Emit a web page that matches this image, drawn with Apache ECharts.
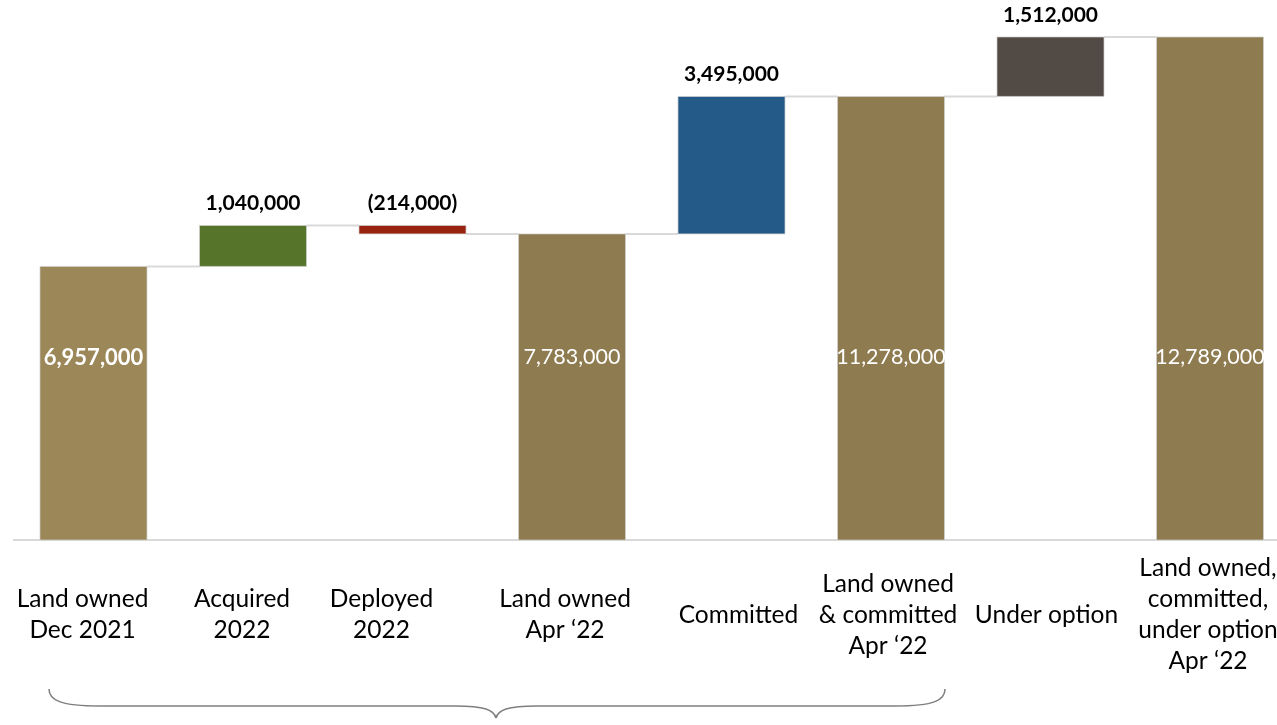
<!DOCTYPE html>
<html>
<head>
<meta charset="utf-8">
<script src="https://cdn.jsdelivr.net/npm/echarts@6/dist/echarts.min.js"></script>
<style>
  html, body { margin: 0; padding: 0; background: #fff; }
  #chart { width: 1277px; height: 725px; }
</style>
</head>
<body>
<div id="chart"></div>
<script>
// Land bank bridge: opening position, movements and closing positions
const categories = [
  'Land owned\nDec 2021',
  'Acquired\n2022',
  'Deployed\n2022',
  'Land owned\nApr \u201822',
  'Committed',
  'Land owned\n& committed\nApr \u201822',
  'Under option',
  'Land owned,\ncommitted,\nunder option\nApr \u201822'
];
// Full-height bars (running totals)
const totals = [6957000, null, null, 7783000, null, 11278000, null, 12789000];
// Floating bars (movements)
const changes = [null, 1040000, -214000, null, 3495000, null, 1512000, null];

// Bar fills per category
const barColors = ['#9c8758', '#57752a', '#98230e', '#8e7b50', '#245a87', '#8e7b50', '#524b45', '#8e7b50'];
// Horizontal nudge (px) of each category caption relative to its column centre
const captionShift = [-11, -11, -31, -7, 7, -3, -4, -2];
// Height (in axis units) at which the totals are labelled inside their bars
const insideLabelLevel = 4640000;

// Build [index, low, high] segments and connector levels
const segments = [];
const connectors = [];
let running = 0;
categories.forEach((c, i) => {
  let lo, hi;
  if (totals[i] != null) {
    lo = 0; hi = totals[i]; running = totals[i];
  } else {
    const next = running + changes[i];
    lo = Math.min(running, next); hi = Math.max(running, next);
    running = next;
  }
  segments.push([i, lo, hi]);
  if (i < categories.length - 1) connectors.push([i, running]);
});

const fmt = v => Math.abs(v).toLocaleString('en-US');
const FONT = 'Lato, "Open Sans", sans-serif';

const captionStyle = {
  color: '#000',
  fontFamily: FONT,
  fontSize: 24.5,
  lineHeight: 31,
  verticalAlign: 'middle',
  align: 'center'
};

const axisData = categories.map((c, i) => {
  const s = captionShift[i];
  return {
    value: c,
    textStyle: Object.assign({}, captionStyle, {
      padding: s < 0 ? [0, -2 * s, 0, 0] : [0, 0, 0, 2 * s]
    })
  };
});

// Curly brace grouping the first six columns
const braceStyle = { fill: 'none', stroke: '#7f7f7f', lineWidth: 1.5 };
const brace = [
  { type: 'bezierCurve', shape: { x1: 49, y1: 689, cpx1: 49, cpy1: 700, cpx2: 60, cpy2: 706, x2: 100, y2: 706 }, style: braceStyle },
  { type: 'line', shape: { x1: 100, y1: 706, x2: 455, y2: 706 }, style: braceStyle },
  { type: 'bezierCurve', shape: { x1: 455, y1: 706, cpx1: 485, cpy1: 706, cpx2: 494, cpy2: 710, x2: 496, y2: 718 }, style: braceStyle },
  { type: 'bezierCurve', shape: { x1: 496, y1: 718, cpx1: 498, cpy1: 710, cpx2: 507, cpy2: 706, x2: 537, y2: 706 }, style: braceStyle },
  { type: 'line', shape: { x1: 537, y1: 706, x2: 895, y2: 706 }, style: braceStyle },
  { type: 'bezierCurve', shape: { x1: 895, y1: 706, cpx1: 935, cpy1: 706, cpx2: 945, cpy2: 700, x2: 945, y2: 689 }, style: braceStyle }
];

const chart = echarts.init(document.getElementById('chart'), null, { renderer: 'canvas' });

chart.setOption({
  animation: false,
  backgroundColor: '#ffffff',
  grid: { left: 13.75, width: 1276, top: 28.7, bottom: 185, containLabel: false, outerBoundsMode: 'none' },
  xAxis: {
    type: 'category',
    data: axisData,
    boundaryGap: true,
    axisTick: { show: false },
    axisLine: { lineStyle: { color: '#d9d9d9', width: 2 } },
    axisLabel: Object.assign({
      interval: 0,
      margin: 75,
      hideOverlap: false
    }, captionStyle)
  },
  yAxis: { type: 'value', min: 0, max: 13000000, show: false },
  series: [
    {
      type: 'custom',
      name: 'connectors',
      clip: false,
      z: 1,
      data: connectors,
      renderItem: (params, api) => {
        const i = api.value(0);
        const p = api.coord([i, api.value(1)]);
        const cw = api.size([1, 0])[0];
        const w = cw * 0.671;
        return {
          type: 'line',
          shape: { x1: p[0] + w / 2, y1: p[1], x2: p[0] + cw - w / 2, y2: p[1] },
          style: { stroke: '#d9d9d9', lineWidth: 2 }
        };
      }
    },
    {
      type: 'custom',
      name: 'bars',
      clip: false,
      z: 2,
      data: segments,
      renderItem: (params, api) => {
        const i = api.value(0);
        const lo = api.coord([i, api.value(1)]);
        const hi = api.coord([i, api.value(2)]);
        const cw = api.size([1, 0])[0];
        const w = cw * 0.671;
        const children = [{
          type: 'rect',
          shape: { x: lo[0] - w / 2, y: hi[1], width: w, height: lo[1] - hi[1] },
          style: { fill: barColors[i], stroke: 'rgba(210,210,210,0.7)', lineWidth: 1 }
        }];
        if (totals[i] != null) {
          const lp = api.coord([i, insideLabelLevel]);
          children.push({
            type: 'text',
            style: {
              x: lp[0], y: lp[1],
              text: fmt(totals[i]),
              fill: '#ffffff',
              font: (i === 0 ? 'bold 22px ' : '21.5px ') + FONT,
              align: 'center', verticalAlign: 'middle'
            }
          });
        } else {
          const v = changes[i];
          children.push({
            type: 'text',
            style: {
              x: hi[0], y: hi[1] - 22,
              text: v < 0 ? '(' + fmt(v) + ')' : fmt(v),
              fill: '#000000',
              font: 'bold 21px ' + FONT,
              align: 'center', verticalAlign: 'middle'
            }
          });
        }
        return { type: 'group', children };
      }
    }
  ],
  graphic: brace
});
</script>
</body>
</html>
